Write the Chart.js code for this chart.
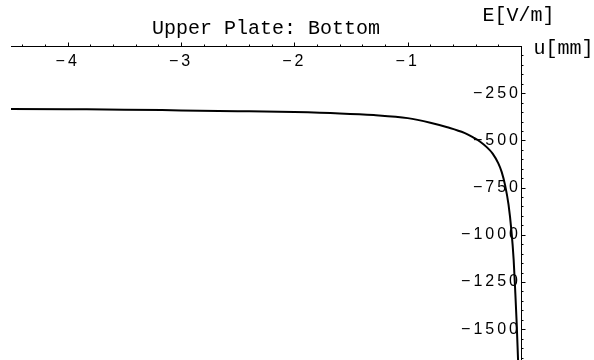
<!DOCTYPE html>
<html>
<head>
<meta charset="utf-8">
<script src="https://cdn.jsdelivr.net/npm/chart.js@4/dist/chart.umd.min.js"></script>
<style>
    html, body { margin: 0; padding: 0; background: #fff; }
    #wrap { width: 594px; height: 360px; position: relative; }
</style>
</head>
<body>
<div id="wrap"><canvas id="feld"></canvas></div>
<script>

// Feldstaerke unter der oberen Platte, u in mm, E in V/m
let uWerte = [-4.5, -4.0, -3.5, -3.0, -2.5, -2.0, -1.6, -1.3, -1.0, -0.8, -0.65, -0.5,
    -0.42, -0.36, -0.3, -0.25, -0.2, -0.17, -0.14, -0.11, -0.085, -0.065, -0.05, -0.038, -0.026];
let eWerte = [-333, -335, -337, -341, -345, -350, -357, -366, -382, -406, -430, -460,
    -485, -507, -537, -570, -622, -668, -738, -840, -975, -1130, -1310, -1470, -1663];

let xTicks = [-4, -3, -2, -1];
let yTicks = [-1500, -1250, -1000, -750, -500, -250];

let titel = 'Upper Plate: Bottom';
let xTitel = 'u[mm]';
let yTitel = 'E[V/m]';

function minus(v) {
    return '\u2212' + Math.abs(v);
}

function ohnePlatz(s, hoehe) {
    // Achse liegt im Plotbereich, kein Platz reservieren
    if (hoehe) s.height = 0; else s.width = 0;
    s.paddingTop = 0;
    s.paddingBottom = 0;
    s.paddingLeft = 0;
    s.paddingRight = 0;
}

let achsen = {
    id: 'achsen',
    beforeDraw: function (chart) {
        // gesperrte Ziffern wie im Mathematica-Plot
        chart.ctx.letterSpacing = '3px';
    },
    afterDraw: function (chart) {
        let ctx = chart.ctx;
        let x = chart.scales.x;
        let y = chart.scales.y;
        let area = chart.chartArea;
        let x0 = Math.round(x.getPixelForValue(0)) + 0.5;
        let y0 = Math.round(y.getPixelForValue(0)) + 0.5;

        ctx.save();
        ctx.strokeStyle = '#000';
        ctx.lineWidth = 1;
        ctx.beginPath();
        // Striche alle 0.2 mm, nach oben
        for (let i = -22; i < 0; i++) {
            let px = Math.round(x.getPixelForValue(i / 5)) + 0.5;
            let len = (i % 5 === 0) ? 4 : 2;
            ctx.moveTo(px, y0);
            ctx.lineTo(px, y0 - len);
        }
        // Striche alle 50 V/m, nach rechts
        for (let i = -33; i < 0; i++) {
            let py = Math.round(y.getPixelForValue(i * 50)) + 0.5;
            let len = (i % 5 === 0) ? 4 : 2;
            ctx.moveTo(x0, py);
            ctx.lineTo(x0 + len, py);
        }
        ctx.stroke();

        ctx.letterSpacing = '0px';
        ctx.fillStyle = '#000';
        ctx.font = '20px "Liberation Mono"';
        ctx.textBaseline = 'middle';
        ctx.textAlign = 'center';
        ctx.fillText(titel, (area.left + area.right) / 2, area.top - 17);
        ctx.fillText(yTitel, x0 - 3, area.top - 30);
        ctx.textAlign = 'left';
        ctx.fillText(xTitel, x0 + 12, y0 + 2);
        ctx.restore();
    }
};

let punkte = [];
for (let i = 0; i < uWerte.length; i++) {
    punkte.push({x: uWerte[i], y: eWerte[i]});
}

let tickFont = {family: 'Liberation Sans', size: 16};

new Chart(document.getElementById('feld').getContext('2d'), {
    type: 'line',
    data: {
        datasets: [{
            data: punkte,
            borderColor: '#000',
            borderWidth: 2,
            pointRadius: 0,
            fill: false,
            cubicInterpolationMode: 'monotone'
        }]
    },
    options: {
        responsive: true,
        maintainAspectRatio: false,
        animation: false,
        layout: {padding: {left: 11, top: 46, right: 73, bottom: 0}},
        plugins: {legend: {display: false}, tooltip: {enabled: false}},
        scales: {
            x: {
                type: 'linear',
                position: {y: 0},
                min: -4.5,
                max: 0,
                afterBuildTicks: function (s) { s.ticks = xTicks.map(v => ({value: v})); },
                afterFit: function (s) { ohnePlatz(s, true); },
                grid: {drawOnChartArea: false, drawTicks: false},
                border: {color: '#000', width: 1},
                ticks: {font: tickFont, color: '#000', padding: 6, maxRotation: 0, callback: minus}
            },
            y: {
                type: 'linear',
                position: {x: 0},
                min: -1663,
                max: 0,
                afterBuildTicks: function (s) { s.ticks = yTicks.map(v => ({value: v})); },
                afterFit: function (s) { ohnePlatz(s, false); },
                grid: {drawOnChartArea: false, drawTicks: false},
                border: {color: '#000', width: 1},
                ticks: {font: tickFont, color: '#000', padding: 6, callback: minus}
            }
        }
    },
    plugins: [achsen]
});

</script>
</body>
</html>
